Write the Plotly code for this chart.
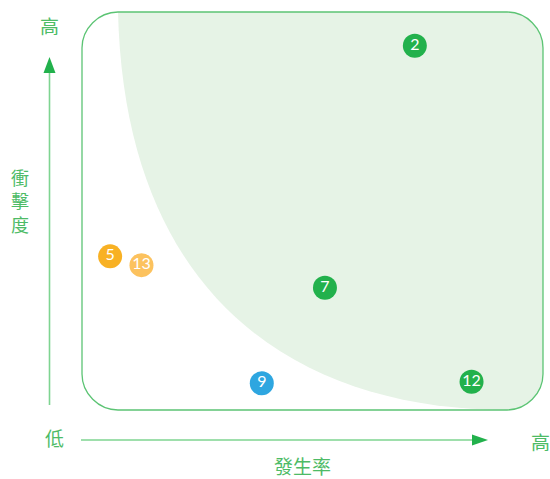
import plotly.graph_objects as go

# risk matrix: occurrence (x) vs impact (y), both on a 0-10 scale
labels = ["2", "5", "13", "7", "9", "12"]
occurrence = [7.22, 0.61, 1.29, 5.27, 3.90, 8.45]
impact = [9.15, 3.86, 3.64, 3.07, 0.67, 0.71]
colors = ["#22B14C", "#F8B124", "#FCC25E", "#22B14C", "#2EA6E0", "#22B14C"]

x_title = "發生率"
y_title = "衝擊度"
low_label = "低"
high_label = "高"

W, H = 550, 479
# plot box in pixels (rounded frame)
L, R, T, B = 82, 543, 12, 410
sx = (R - L) / 10.0
sy = (B - T) / 10.0


def X(px):
    return (px - L) / sx


def Y(py):
    return (B - py) / sy


def path(pts):
    # pts: list of (cmd, [(px,py),...])
    out = []
    for cmd, coords in pts:
        out.append(cmd + " ".join(f"{X(a):.4f},{Y(b):.4f}" for a, b in coords))
    return " ".join(out) + " Z"


r = 36
k = r * 0.54
frame = path([
    ("M", [(L + r, T)]),
    ("L", [(R - r, T)]),
    ("C", [(R - r + k, T), (R, T + r - k), (R, T + r)]),
    ("L", [(R, B - r)]),
    ("C", [(R, B - r + k), (R - r + k, B), (R - r, B)]),
    ("L", [(L + r, B)]),
    ("C", [(L + r - k, B), (L, B - r + k), (L, B - r)]),
    ("L", [(L, T + r)]),
    ("C", [(L, T + r - k), (L + r - k, T), (L + r, T)]),
])

zone = path([
    ("M", [(118, T)]),
    ("C", [(125, 300), (300, 410), (R - r, B)]),
    ("C", [(R - r + k, B), (R, B - r + k), (R, B - r)]),
    ("L", [(R, T + r)]),
    ("C", [(R, T + r - k), (R - r + k, T), (R - r, T)]),
])

arrow_line = "#7ED491"
arrow_head = "#22B14C"
text_col = "#4DBB66"

fig = go.Figure()
fig.add_trace(go.Scatter(
    x=occurrence, y=impact, mode="markers+text",
    text=labels, textposition="middle center",
    textfont=dict(color="white", size=16, family="Lato"),
    marker=dict(size=24, color=colors, line=dict(width=0)),
    hoverinfo="skip", showlegend=False,
))

shapes = [
    dict(type="path", path=zone, xref="x", yref="y", fillcolor="#E6F3E6",
         line=dict(width=0), layer="below"),
    dict(type="path", path=frame, xref="x", yref="y", fillcolor="rgba(0,0,0,0)",
         line=dict(color="#5CC474", width=1.3), layer="below"),
    # vertical arrow
    dict(type="line", xref="x", yref="y", x0=X(49.5), x1=X(49.5), y0=Y(405), y1=Y(70),
         line=dict(color=arrow_line, width=1.6)),
    dict(type="path", xref="x", yref="y",
         path=path([("M", [(49.5, 57)]), ("L", [(43.5, 73)]), ("L", [(55.5, 73)])]),
         fillcolor=arrow_head, line=dict(width=0)),
    # horizontal arrow
    dict(type="line", xref="x", yref="y", x0=X(81), x1=X(474), y0=Y(440), y1=Y(440),
         line=dict(color=arrow_line, width=1.6)),
    dict(type="path", xref="x", yref="y",
         path=path([("M", [(488, 440)]), ("L", [(472, 434.5)]), ("L", [(472, 445.5)])]),
         fillcolor=arrow_head, line=dict(width=0)),
]

font = dict(family="Noto Sans CJK TC", size=19, color=text_col)
annotations = [
    dict(x=X(49), y=Y(25), text=high_label),
    dict(x=X(54), y=Y(437), text=low_label),
    dict(x=X(540), y=Y(441), text=high_label),
    dict(x=X(302), y=Y(465), text=x_title),
    dict(x=X(20), y=Y(200), text="<br>".join(y_title)),
]
for a in annotations:
    a.update(xref="x", yref="y", showarrow=False, font=font,
             xanchor="center", yanchor="middle")
annotations[-1]["font"] = dict(family="Noto Sans CJK TC", size=18, color=text_col)

fig.update_layout(
    width=W, height=H,
    margin=dict(l=0, r=0, t=0, b=0),
    plot_bgcolor="white", paper_bgcolor="white",
    shapes=shapes, annotations=annotations,
    xaxis=dict(range=[X(0), X(W)], visible=False, fixedrange=True),
    yaxis=dict(range=[Y(H), Y(0)], visible=False, fixedrange=True),
)

# drop the default body margin so the figure sits at the window's corner
fig.write_html("out.html", config={"displayModeBar": False},
               post_script="document.body.style.margin='0';")
